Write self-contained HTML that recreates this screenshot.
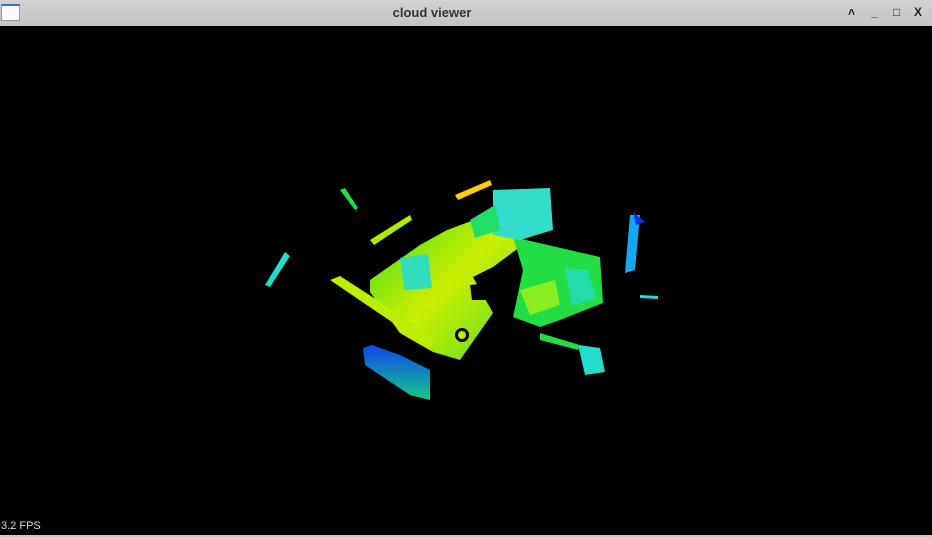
<!DOCTYPE html>
<html><head><meta charset="utf-8"><style>
html,body{margin:0;padding:0;width:932px;height:537px;overflow:hidden;background:#000;font-family:"Liberation Sans",sans-serif}
#title{position:absolute;left:0;top:0;width:932px;height:26px;background:linear-gradient(#d2d2d2,#c4c4c4);}
#title .t{position:absolute;left:0;width:864px;top:5px;text-align:center;font-size:13px;color:#333;font-weight:bold}
#icon{position:absolute;left:1px;top:4px;width:19px;height:17px;background:#fafafa;border:1px solid #999;border-top:2px solid #3a6fc4;box-sizing:border-box}
.btn{position:absolute;top:5px;font-size:12px;color:#222;font-weight:bold}
#fps{position:absolute;left:1px;top:520px;font-size:11px;color:#ddd}
#bottom{position:absolute;left:0;top:535px;width:932px;height:2px;background:#c8c8c8}
svg{position:absolute;left:0;top:26px}
</style></head><body>
<div id="title">
<div id="icon"></div>
<div class="t">cloud viewer</div>
<div class="btn" style="left:848px">˄</div>
<div class="btn" style="left:871px">_</div>
<div class="btn" style="left:893px">□</div>
<div class="btn" style="left:914px">X</div>
</div>
<svg width="932" height="509" viewBox="0 26 932 509">
<defs>
<linearGradient id="g1" x1="0" y1="0" x2="1" y2="1"><stop offset="0" stop-color="#33dd22"/><stop offset="0.5" stop-color="#ccee00"/><stop offset="1" stop-color="#55dd22"/></linearGradient>
<linearGradient id="g2" x1="0" y1="0" x2="0" y2="1"><stop offset="0" stop-color="#1144ee"/><stop offset="1" stop-color="#11cc88"/></linearGradient>
</defs>
<g>
<polygon points="370,280 420,245 447,230 493,213 513,228 520,247 493,267 473,277 493,313 460,360 433,352 417,343 400,333 370,292" fill="url(#g1)"/>
<polygon points="330,280 340,276 433,336 430,348" fill="#bbee00"/>
<polygon points="513,237 600,257 603,303 560,320 540,327 513,317 523,270" fill="#22dd44"/>
<polygon points="520,290 555,280 560,305 530,315" fill="#88ee22"/>
<polygon points="493,190 550,188 553,230 520,240 493,235" fill="#33ddcc"/>
<polygon points="400,258 428,254 432,288 404,290" fill="#33ddbb"/>
<polygon points="565,268 588,270 596,298 572,306" fill="#22ddaa"/>
<polygon points="470,220 495,205 500,230 475,238" fill="#22dd66"/>
<circle cx="462" cy="335" r="7" fill="#000"/>
<circle cx="462" cy="335" r="4" fill="#bbee00"/>
<polygon points="470,285 490,283 488,300 472,300" fill="#000"/>
</g>
<g>
<polygon points="363,348 372,345 400,355 430,370 430,400 410,395 395,385 365,365" fill="url(#g2)"/>
<polygon points="630,215 640,215 635,270 625,273" fill="#11aaee"/>
<polygon points="633,212 645,222 636,225" fill="#1133ee"/>
<polygon points="265,285 285,252 290,256 270,287" fill="#22ddcc"/>
<polygon points="578,345 600,348 605,372 585,375" fill="#22ddcc"/>
<polygon points="370,240 410,215 412,220 374,245" fill="#aaee00"/>
<polygon points="455,195 490,180 492,185 458,200" fill="#ffcc00"/>
<polygon points="340,190 355,210 358,208 345,188" fill="#22dd44"/>
<polygon points="540,333 580,345 578,350 540,340" fill="#22dd44"/>
<polygon points="640,295 658,296 658,299 640,298" fill="#22dddd"/>
</g>
</svg>
<div id="fps">3.2 FPS</div>
<div id="bottom"></div>
</body></html>
